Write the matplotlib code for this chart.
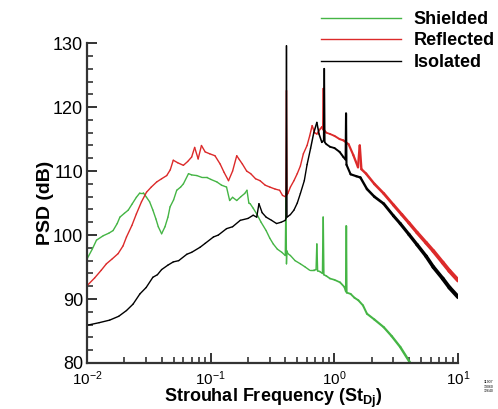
import numpy as np
import matplotlib.pyplot as plt
from matplotlib.ticker import MultipleLocator, LogLocator
from matplotlib.collections import LineCollection

plt.rcParams['font.family'] = ['Liberation Sans', 'DejaVu Sans']
plt.rcParams['mathtext.default'] = 'regular'

# Shielded (green)
st_sh = np.array([0.01, 0.011, 0.0119, 0.0135, 0.015, 0.0162, 0.0175, 0.0184, 0.02, 0.0215,
                  0.023, 0.025, 0.0267, 0.0285, 0.0302, 0.032, 0.034, 0.036, 0.0376, 0.040,
                  0.0426, 0.045, 0.0468, 0.05, 0.053, 0.057, 0.06, 0.066, 0.07, 0.077,
                  0.085, 0.093, 0.1, 0.112, 0.122, 0.134, 0.142, 0.15, 0.162, 0.175,
                  0.188, 0.196, 0.203, 0.208, 0.22, 0.235, 0.255, 0.28, 0.30, 0.32,
                  0.345, 0.375, 0.40, 0.405, 0.409, 0.413, 0.42, 0.44, 0.48, 0.53,
                  0.58, 0.63, 0.68, 0.71, 0.72, 0.73, 0.76, 0.80, 0.81, 0.82,
                  0.86, 0.92, 1.0, 1.11, 1.2, 1.235, 1.245, 1.255, 1.35, 1.45,
                  1.56, 1.7, 1.83, 2.1, 2.5, 2.9, 3.4, 4.1, 5.0, 7.0, 10])
db_sh = np.array([96.3, 97.8, 99.2, 99.9, 100.3, 100.7, 101.8, 102.8, 103.4, 103.9,
                  104.8, 105.9, 106.6, 106.6, 105.9, 105.2, 103.9, 102.5, 101.3, 100.2,
                  101.3, 102.8, 104.4, 105.5, 107.0, 107.5, 108.0, 109.6, 109.4, 109.3,
                  109.0, 109.0, 108.7, 108.3, 107.8, 107.5, 105.4, 105.9, 105.4, 106.0,
                  106.5, 107.0, 105.0, 104.9, 104.2, 103.3, 102.0, 100.7, 99.5, 98.6,
                  97.8, 97.3, 96.8, 106.5, 95.5, 97.5, 97.1, 96.8, 96.0, 95.5,
                  95.0, 94.5, 94.5, 94.6, 98.6, 94.4, 94.3, 94.0, 102.8, 93.8,
                  93.6, 93.2, 93.0, 92.6, 91.9, 91.2, 101.4, 91.0, 90.8, 90.2,
                  89.8, 89.0, 87.7, 86.8, 85.6, 84.2, 82.5, 80.0, 77.5, 72.5, 67.0])

# Reflected (red)
st_ref = np.array([0.01, 0.0115, 0.0130, 0.0143, 0.016, 0.0178, 0.0195, 0.0208, 0.023, 0.025,
                   0.0275, 0.0302, 0.033, 0.0365, 0.04, 0.044, 0.047, 0.0497, 0.054, 0.06,
                   0.065, 0.07, 0.074, 0.079, 0.084, 0.09, 0.098, 0.108, 0.119, 0.128,
                   0.139, 0.15, 0.162, 0.17, 0.18, 0.195, 0.21, 0.23, 0.25, 0.275,
                   0.30, 0.33, 0.36, 0.38, 0.40, 0.405, 0.409, 0.413, 0.42, 0.44,
                   0.47, 0.5, 0.53, 0.56, 0.6, 0.63, 0.66, 0.69, 0.72, 0.76,
                   0.79, 0.805, 0.812, 0.82, 0.86, 0.92, 1.0, 1.1, 1.18, 1.3,
                   1.42, 1.55, 1.60, 1.65, 1.8, 2.1, 2.5, 3.0, 3.5, 4.0,
                   4.65, 5.5, 6.3, 7.5, 8.5, 10])
db_ref = np.array([92.1, 93.3, 94.5, 95.5, 96.3, 97.1, 98.3, 99.7, 101.5, 103.3,
                   105.2, 106.7, 107.5, 108.3, 108.8, 109.3, 110.2, 111.7, 111.3, 110.9,
                   111.5, 112.2, 113.7, 111.9, 114.0, 113.0, 112.7, 112.4, 111.1, 109.8,
                   108.5, 110.0, 112.4, 111.8, 111.1, 110.0, 109.6, 108.8, 108.5, 107.8,
                   107.5, 107.2, 107.0, 106.2, 106.0, 106.3, 122.6, 106.3, 106.5, 107.5,
                   108.5, 109.6, 110.8, 112.7, 114.0, 115.5, 117.1, 116.0, 115.8, 116.5,
                   116.9, 116.5, 122.9, 116.5, 116.0, 115.8, 115.5, 115.0, 114.8, 114.2,
                   112.5, 110.6, 114.0, 110.3, 109.6, 108.0, 106.5, 104.7, 103.2, 101.9,
                   100.4, 98.8, 97.5, 95.7, 94.4, 92.9])

# Isolated (black)
st_iso = np.array([0.01, 0.0125, 0.0152, 0.018, 0.0208, 0.0235, 0.0267, 0.03, 0.034, 0.037,
                   0.04, 0.045, 0.0497, 0.055, 0.064, 0.07, 0.082, 0.09, 0.105, 0.115,
                   0.134, 0.15, 0.173, 0.2, 0.22, 0.235, 0.245, 0.26, 0.28, 0.31,
                   0.34, 0.37, 0.40, 0.405, 0.409, 0.413, 0.42, 0.44, 0.47, 0.5,
                   0.53, 0.57, 0.6, 0.64, 0.68, 0.72, 0.75, 0.79, 0.818, 0.826,
                   0.834, 0.86, 0.92, 1.0, 1.1, 1.18, 1.23, 1.24, 1.25, 1.35,
                   1.5, 1.62, 1.83, 2.1, 2.5, 3.0, 3.4, 4.0, 4.65, 5.5,
                   6.3, 7.5, 8.5, 10])
db_iso = np.array([85.9, 86.3, 86.7, 87.3, 88.2, 89.2, 90.8, 91.8, 93.4, 93.8,
                   94.6, 95.3, 95.8, 96.0, 97.0, 97.3, 98.1, 98.7, 99.7, 100.0,
                   101.0, 101.3, 102.3, 102.6, 103.1, 102.8, 104.9, 103.5, 102.8, 102.3,
                   101.8, 102.0, 102.3, 102.6, 129.6, 102.8, 102.9, 103.2, 103.9, 105.0,
                   106.5, 108.5, 111.0, 113.5, 116.0, 117.6, 115.8, 114.5, 114.8, 126.0,
                   114.5, 114.2, 113.8, 113.6, 113.0, 112.2, 111.8, 119.0, 111.0, 109.5,
                   109.2, 109.0, 107.2, 106.0, 104.9, 103.0, 101.8, 100.1, 98.5, 96.7,
                   95.0, 93.2, 91.8, 90.3])

green = '#45b545'
red = '#dc2a2a'
black = '#000000'


def trace(ax, st, db, color, label, w1, s0):
    # noisy spectra look thicker at high frequency: widen the stroke there
    pts = np.column_stack([st, db])
    segs = np.stack([pts[:-1], pts[1:]], axis=1)
    mid = np.sqrt(st[:-1] * st[1:])
    frac = np.clip((np.log10(mid) - np.log10(s0)) / (1 - np.log10(s0)), 0, 1)
    widths = 1.0 + (w1 - 1.0) * frac
    lc = LineCollection(segs, colors=color, linewidths=widths, capstyle='round',
                        joinstyle='round')
    ax.add_collection(lc)
    ax.plot([], [], color=color, lw=1.0, label=label)


fig = plt.figure(figsize=(4.98, 4.09), dpi=100)
ax = fig.add_axes([0.175, 0.1125, 0.745, 0.782])

trace(ax, st_sh, db_sh, green, 'Shielded', 2.2, 0.6)
trace(ax, st_ref, db_ref, red, 'Reflected', 3.0, 0.6)
trace(ax, st_iso, db_iso, black, 'Isolated', 3.0, 0.6)

ax.set_xscale('log')
ax.set_xlim(0.01, 10)
ax.set_ylim(80, 130)
ax.yaxis.set_major_locator(MultipleLocator(10))
ax.yaxis.set_minor_locator(MultipleLocator(2))
ax.xaxis.set_major_locator(LogLocator(base=10))
ax.xaxis.set_minor_locator(LogLocator(base=10, subs=np.arange(2, 10)))

for s in ['top', 'right']:
    ax.spines[s].set_visible(False)
for s in ['left', 'bottom']:
    ax.spines[s].set_color('#333333')
    ax.spines[s].set_linewidth(1.6)

ax.tick_params(which='major', direction='in', length=7, width=1.4, color='#333333')
ax.tick_params(axis='y', which='major', labelsize=13, pad=3)
ax.tick_params(axis='x', which='major', labelsize=11, pad=4.5)
ax.tick_params(which='minor', direction='in', length=4, width=1.2, color='#333333')

ax.set_xlabel('Strouhal Frequency (St$_{Dj}$)', fontsize=13, fontweight='bold')
ax.xaxis.set_label_coords(0.5, -0.076)
ax.set_ylabel('PSD (dB)', fontsize=14, fontweight='bold')
ax.yaxis.set_label_coords(-0.09, 0.5)

leg = ax.legend(loc='upper right', bbox_to_anchor=(1.015, 1.0), bbox_transform=fig.transFigure,
                frameon=False, fontsize=13, handlelength=4.4, handletextpad=0.7,
                labelspacing=0.25, borderaxespad=0.2)
for t in leg.get_texts():
    t.set_fontweight('bold')

fig.text(0.972, 0.055, '11907\n13060\n12640', fontsize=2.5, ha='left', va='center',
         linespacing=1.1)

plt.savefig('out.png', dpi=100)
